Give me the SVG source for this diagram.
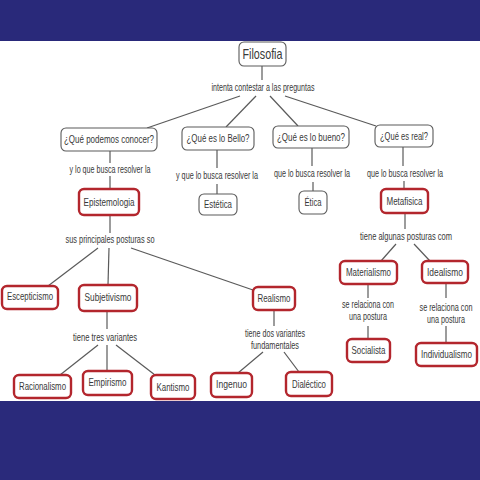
<svg xmlns="http://www.w3.org/2000/svg" width="480" height="480" viewBox="0 0 480 480">
<style>
text{font-family:"Liberation Sans",Arial,sans-serif;fill:#383838;text-anchor:middle;transform:scale(0.72,1)}
.lbl{font-size:10px}
.nt{font-size:11px}
.g rect{fill:#fff;stroke:#5a5a5a;stroke-width:1.1}
.r rect{fill:#fff;stroke:#b3262d;stroke-width:2.4}
#connectors line{stroke:#5a5a5a;stroke-width:1.2}
</style>
<rect x="0" y="0" width="480" height="41" fill="#29297a"/>
<rect x="0" y="41" width="480" height="360" fill="#fff"/>
<rect x="0" y="401" width="480" height="79" fill="#2a2a7b"/>
<g id="connectors">
<line x1="262" y1="66" x2="262" y2="80"/>
<line x1="240" y1="96" x2="147" y2="128"/>
<line x1="256" y1="96" x2="226" y2="127"/>
<line x1="270" y1="96" x2="298" y2="126"/>
<line x1="285" y1="96" x2="376" y2="126"/>
<line x1="110" y1="151" x2="110" y2="163"/>
<line x1="110" y1="176" x2="110" y2="189"/>
<line x1="217" y1="150" x2="217" y2="168"/>
<line x1="217" y1="184" x2="217" y2="194"/>
<line x1="312" y1="148" x2="312" y2="166"/>
<line x1="313" y1="182" x2="313" y2="191"/>
<line x1="403" y1="147" x2="403" y2="166"/>
<line x1="404" y1="181" x2="404" y2="189"/>
<line x1="405" y1="213" x2="405" y2="229"/>
<line x1="110" y1="215" x2="110" y2="233"/>
<line x1="98" y1="248" x2="48" y2="286"/>
<line x1="109" y1="248" x2="108" y2="285"/>
<line x1="131" y1="248" x2="253" y2="290"/>
<line x1="107" y1="311" x2="107" y2="329"/>
<line x1="98" y1="345" x2="60" y2="375"/>
<line x1="107" y1="345" x2="107" y2="371"/>
<line x1="116" y1="345" x2="155" y2="375"/>
<line x1="274" y1="310" x2="274" y2="326"/>
<line x1="263" y1="352" x2="238" y2="373"/>
<line x1="284" y1="352" x2="299" y2="372"/>
<line x1="396" y1="244" x2="381" y2="261"/>
<line x1="414" y1="244" x2="430" y2="261"/>
<line x1="368" y1="284" x2="368" y2="298"/>
<line x1="368" y1="326" x2="368" y2="339"/>
<line x1="446" y1="283" x2="446" y2="298"/>
<line x1="446" y1="326" x2="446" y2="343"/>
</g>
<g id="labels">
<text class="lbl" x="365.28" y="91" textLength="143.06" lengthAdjust="spacingAndGlyphs">intenta contestar a las preguntas</text>
<text class="lbl" x="152.78" y="173" textLength="112.5" lengthAdjust="spacingAndGlyphs">y lo que busca resolver la</text>
<text class="lbl" x="301.39" y="179" textLength="113.89" lengthAdjust="spacingAndGlyphs">y que lo busca resolver la</text>
<text class="lbl" x="433.33" y="177" textLength="105.56" lengthAdjust="spacingAndGlyphs">que lo busca resolver la</text>
<text class="lbl" x="562.5" y="177" textLength="105.56" lengthAdjust="spacingAndGlyphs">que lo busca resolver la</text>
<text class="lbl" x="152.78" y="243" textLength="123.61" lengthAdjust="spacingAndGlyphs">sus principales posturas so</text>
<text class="lbl" x="563.89" y="240" textLength="127.78" lengthAdjust="spacingAndGlyphs">tiene algunas posturas com</text>
<text class="lbl" x="145.83" y="341" textLength="88.89" lengthAdjust="spacingAndGlyphs">tiene tres variantes</text>
<text class="lbl" x="381.94" y="337" textLength="83.33" lengthAdjust="spacingAndGlyphs">tiene dos variantes</text>
<text class="lbl" x="381.94" y="349" textLength="66.67" lengthAdjust="spacingAndGlyphs">fundamentales</text>
<text class="lbl" x="511.11" y="308" textLength="72.22" lengthAdjust="spacingAndGlyphs">se relaciona con</text>
<text class="lbl" x="511.11" y="320" textLength="52.78" lengthAdjust="spacingAndGlyphs">una postura</text>
<text class="lbl" x="619.44" y="311" textLength="73.61" lengthAdjust="spacingAndGlyphs">se relaciona con</text>
<text class="lbl" x="619.44" y="323" textLength="52.78" lengthAdjust="spacingAndGlyphs">una postura</text>
</g>
<g id="filosofia" class="g"><rect x="239" y="42" width="47" height="24" rx="5"/><text x="364.58" y="59" font-size="14" textLength="55.56" lengthAdjust="spacingAndGlyphs">Filosofia</text></g>
<g id="q-conocer" class="g"><rect x="61" y="128" width="96" height="23" rx="5"/><text class="nt" x="151.39" y="143.5" textLength="125" lengthAdjust="spacingAndGlyphs">¿Qué podemos conocer?</text></g>
<g id="q-bello" class="g"><rect x="182" y="127" width="72" height="23" rx="5"/><text class="nt" x="302.78" y="142.5" textLength="87.5" lengthAdjust="spacingAndGlyphs">¿Qué es lo Bello?</text></g>
<g id="q-bueno" class="g"><rect x="273" y="126" width="76" height="22" rx="5"/><text class="nt" x="431.94" y="141" textLength="94.44" lengthAdjust="spacingAndGlyphs">¿Qué es lo bueno?</text></g>
<g id="q-real" class="g"><rect x="375" y="125" width="58" height="22" rx="5"/><text class="nt" x="561.11" y="140" textLength="66.67" lengthAdjust="spacingAndGlyphs">¿Qué es real?</text></g>
<g id="epistemologia" class="r"><rect x="79" y="189" width="60" height="26" rx="5"/><text class="nt" x="151.39" y="206" textLength="70.83" lengthAdjust="spacingAndGlyphs">Epistemologia</text></g>
<g id="estetica" class="g"><rect x="199" y="194" width="38" height="21" rx="5"/><text class="nt" x="302.78" y="208.5" textLength="38.89" lengthAdjust="spacingAndGlyphs">Estética</text></g>
<g id="etica" class="g"><rect x="299" y="191" width="28" height="23" rx="5"/><text class="nt" x="434.72" y="206.5" textLength="23.61" lengthAdjust="spacingAndGlyphs">Ética</text></g>
<g id="metafisica" class="r"><rect x="381" y="189" width="47" height="24" rx="5"/><text class="nt" x="561.81" y="205" textLength="50" lengthAdjust="spacingAndGlyphs">Metafisica</text></g>
<g id="escepticismo" class="r"><rect x="2" y="286" width="56" height="23" rx="5"/><text class="nt" x="41.67" y="300.5" textLength="63.89" lengthAdjust="spacingAndGlyphs">Escepticismo</text></g>
<g id="subjetivismo" class="r"><rect x="79" y="285" width="58" height="26" rx="5"/><text class="nt" x="150" y="301.5" textLength="65.28" lengthAdjust="spacingAndGlyphs">Subjetivismo</text></g>
<g id="realismo" class="r"><rect x="253" y="287" width="42" height="23" rx="5"/><text class="nt" x="380.56" y="302" textLength="45.83" lengthAdjust="spacingAndGlyphs">Realismo</text></g>
<g id="racionalismo" class="r"><rect x="14" y="375" width="57" height="23" rx="5"/><text class="nt" x="59.03" y="390.5" textLength="65.28" lengthAdjust="spacingAndGlyphs">Racionalismo</text></g>
<g id="empirismo" class="r"><rect x="83" y="371" width="49" height="24" rx="5"/><text class="nt" x="149.31" y="386" textLength="52.78" lengthAdjust="spacingAndGlyphs">Empirismo</text></g>
<g id="kantismo" class="r"><rect x="151" y="375" width="44" height="24" rx="5"/><text class="nt" x="240.28" y="391" textLength="45.83" lengthAdjust="spacingAndGlyphs">Kantismo</text></g>
<g id="ingenuo" class="r"><rect x="211" y="373" width="41" height="24" rx="5"/><text class="nt" x="321.53" y="388" textLength="43.06" lengthAdjust="spacingAndGlyphs">Ingenuo</text></g>
<g id="dialectico" class="r"><rect x="286" y="372" width="46" height="24" rx="5"/><text class="nt" x="429.17" y="388" textLength="47.22" lengthAdjust="spacingAndGlyphs">Dialéctico</text></g>
<g id="materialismo" class="r"><rect x="340" y="261" width="57" height="23" rx="5"/><text class="nt" x="511.81" y="276.5" textLength="62.5" lengthAdjust="spacingAndGlyphs">Materialismo</text></g>
<g id="idealismo" class="r"><rect x="422" y="261" width="46" height="22" rx="5"/><text class="nt" x="618.06" y="276" textLength="50" lengthAdjust="spacingAndGlyphs">Idealismo</text></g>
<g id="socialista" class="r"><rect x="347" y="339" width="43" height="23" rx="5"/><text class="nt" x="511.81" y="354.5" textLength="47.22" lengthAdjust="spacingAndGlyphs">Socialista</text></g>
<g id="individualismo" class="r"><rect x="416" y="343" width="61" height="23" rx="5"/><text class="nt" x="620.14" y="358.5" textLength="70.83" lengthAdjust="spacingAndGlyphs">Individualismo</text></g>
</svg>
